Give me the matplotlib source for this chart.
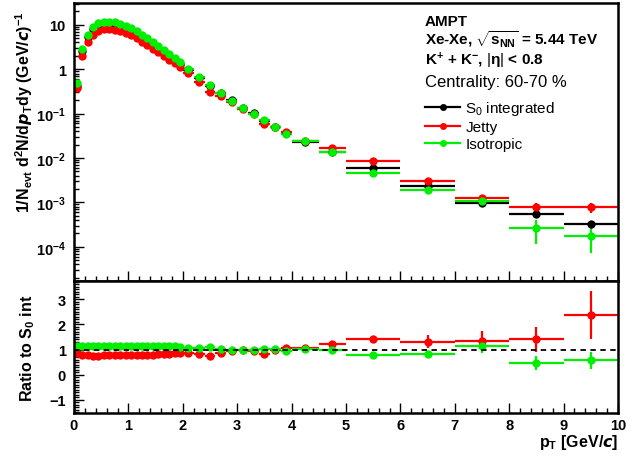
import numpy as np
import matplotlib
matplotlib.use("Agg")
import matplotlib.pyplot as plt
from matplotlib.ticker import MultipleLocator, FixedLocator, NullFormatter, FuncFormatter
from matplotlib.lines import Line2D

plt.rcParams['font.family'] = ['Liberation Sans', 'DejaVu Sans']
plt.rcParams['mathtext.fontset'] = 'custom'
plt.rcParams['mathtext.rm'] = 'Liberation Sans'
plt.rcParams['mathtext.it'] = 'Liberation Sans:italic'
plt.rcParams['mathtext.bf'] = 'Liberation Sans:bold'

# ---- data ----
pt = [0.05, 0.15, 0.25, 0.35, 0.45, 0.55, 0.65, 0.75, 0.85, 0.95,
      1.05, 1.15, 1.25, 1.35, 1.45, 1.55, 1.65, 1.75, 1.85, 1.95,
      2.1, 2.3, 2.5, 2.7, 2.9, 3.1, 3.3, 3.5, 3.7, 3.9,
      4.25, 4.75, 5.5, 6.5, 7.5, 8.5, 9.5]
pt_halfwidth = [0.05] * 20 + [0.1] * 10 + [0.25] * 2 + [0.5] * 5

spec_int = [0.42, 2.55, 5.2, 7.9, 9.5, 10.2, 10.4, 10.0, 9.3, 8.4,
            7.4, 6.3, 5.3, 4.4, 3.6, 3.0, 2.42, 1.98, 1.6, 1.28,
            0.94, 0.62, 0.41, 0.285, 0.20, 0.133, 0.101, 0.070, 0.050, 0.036,
            0.0235, 0.0137, 0.0060, 0.0023, 0.00097, 0.00055, 0.00032]
spec_jetty = [0.37, 2.0, 4.0, 6.0, 7.3, 7.9, 8.0, 7.7, 7.2, 6.5,
              5.8, 4.95, 4.2, 3.5, 2.9, 2.42, 1.98, 1.65, 1.36, 1.11,
              0.83, 0.51, 0.31, 0.25, 0.186, 0.129, 0.096, 0.058, 0.050, 0.039,
              0.0247, 0.0165, 0.0085, 0.0030, 0.00128, 0.00077, 0.00077]
spec_iso = [0.48, 2.9, 6.0, 9.0, 10.8, 11.6, 11.8, 11.4, 10.6, 9.6,
            8.4, 7.2, 6.0, 5.0, 4.1, 3.4, 2.75, 2.25, 1.82, 1.46,
            1.02, 0.66, 0.45, 0.29, 0.195, 0.133, 0.098, 0.072, 0.051, 0.034,
            0.0243, 0.0134, 0.0047, 0.0019, 0.00105, 0.00026, 0.000177]
err_int = [0.0] * 32 + [0.0002, 0.0001, 0.00006, 0.00008, 0.00006]
err_jetty = [0.0] * 32 + [0.0004, 0.00022, 0.0002, 0.0002, 0.00018]
err_iso = [0.0] * 32 + [0.0002, 0.00012, 0.00015, 0.000145, 0.000105]

ratio_jetty = [0.88, 0.78, 0.77, 0.76, 0.76, 0.77, 0.77, 0.77, 0.77, 0.77,
               0.78, 0.78, 0.79, 0.80, 0.80, 0.81, 0.82, 0.83, 0.85, 0.86,
               0.88, 0.83, 0.76, 0.88, 0.93, 0.97, 0.95, 0.83, 1.00, 1.08,
               1.05, 1.20, 1.41, 1.31, 1.35, 1.40, 2.37]
ratio_iso = [1.15, 1.14, 1.13, 1.14, 1.14, 1.15, 1.14, 1.14, 1.13, 1.14,
             1.15, 1.14, 1.13, 1.14, 1.15, 1.13, 1.13, 1.12, 1.13, 1.10,
             1.08, 1.07, 1.10, 1.02, 0.97, 1.00, 0.97, 1.03, 1.02, 0.95,
             1.03, 0.99, 0.80, 0.81, 1.15, 0.47, 0.57]
rerr_jetty = [0.0] * 30 + [0.04, 0.05, 0.08, 0.25, 0.38, 0.5, 0.96]
rerr_iso = [0.0] * 30 + [0.04, 0.05, 0.06, 0.12, 0.3, 0.28, 0.35]

labels = ["S$_0$ integrated", "Jetty", "Isotropic"]
colors = ["black", "#ff0000", "#00ee00"]
log_decades = [1e-4, 1e-3, 1e-2, 1e-1, 1, 10]

# ---- figure ----
fig = plt.figure(figsize=(6.33, 4.60), dpi=100)
W, H = 633.0, 460.0
x0, x1 = 74 / W, 618 / W
ax1 = fig.add_axes([x0, 1 - 282 / H, x1 - x0, (282 - 4) / H])
ax2 = fig.add_axes([x0, 1 - 414 / H, x1 - x0, (414 - 282) / H])

ekw = dict(fmt='o', ms=6, capsize=0, elinewidth=1.6, markeredgewidth=0)
for y, e, c in zip([spec_int, spec_jetty, spec_iso], [err_int, err_jetty, err_iso], colors):
    ax1.errorbar(pt, y, xerr=pt_halfwidth, yerr=e, color=c, **ekw)

ax2.errorbar(pt, ratio_jetty, xerr=pt_halfwidth, yerr=rerr_jetty, color=colors[1], **ekw)
ax2.errorbar(pt, ratio_iso, xerr=pt_halfwidth, yerr=rerr_iso, color=colors[2], **ekw)
ax2.axhline(1.0, color='black', ls=(0, (3, 2.5)), lw=1.3, zorder=5)

ax1.set_yscale('log')
ax1.set_ylim(1.7e-5, 31)
ax1.set_xlim(0, 10)
ax2.set_xlim(0, 10)
ax2.set_ylim(-1.52, 3.72)

for ax in (ax1, ax2):
    for s in ax.spines.values():
        s.set_linewidth(1.8)
    ax.tick_params(which='both', direction='in', top=False, right=False, width=1.0)
    ax.tick_params(which='major', length=7)
    ax.tick_params(which='minor', length=3.5)
    ax.xaxis.set_major_locator(MultipleLocator(1))
    ax.xaxis.set_minor_locator(MultipleLocator(0.2))

ax1.tick_params(axis='x', labelbottom=False)
ax1.yaxis.set_major_locator(FixedLocator(log_decades))
minor = [m * d for d in [1e-5] + log_decades for m in range(2, 10)]
ax1.yaxis.set_minor_locator(FixedLocator([v for v in minor if 1.7e-5 <= v <= 31]))
ax1.yaxis.set_minor_formatter(NullFormatter())

def logfmt(v, pos):
    e = int(round(np.log10(v)))
    if e == 0:
        return "1"
    if e == 1:
        return "10"
    return r"$\mathbf{10^{%d}}$" % e

ax1.yaxis.set_major_formatter(FuncFormatter(logfmt))
ax2.yaxis.set_major_locator(FixedLocator([-1, 0, 1, 2, 3]))
ax2.yaxis.set_minor_locator(MultipleLocator(0.1))
ax2.yaxis.set_minor_formatter(NullFormatter())

for ax in (ax1, ax2):
    ax.tick_params(axis='y', pad=6)
    for lab in ax.get_xticklabels() + ax.get_yticklabels():
        lab.set_fontweight('bold')
        lab.set_fontsize(10.5)

ax1.set_ylabel(r"1/N$_{\mathbf{evt}}$ d$^{\mathbf{2}}$N/d$\boldsymbol{p}_{\mathbf{T}}$dy (GeV/$\boldsymbol{c}$)$^{\mathbf{-1}}$",
               fontsize=11.5, fontweight='bold', loc='top')
ax1.yaxis.set_label_coords(-0.072, 0.975)
ax2.set_ylabel(r"Ratio to S$_{\mathbf{0}}$ int", fontsize=11.5, fontweight='bold')
ax2.yaxis.set_label_coords(-0.068, 0.5)
ax2.set_xlabel(r"p$_{\mathbf{T}}$ [GeV/$\boldsymbol{c}$]", fontsize=11.5, fontweight='bold', loc='right', labelpad=0)

# text block
tx = (425 - 74) / 544
ax1.text(tx, 0.934, "AMPT", transform=ax1.transAxes, fontsize=11, fontweight='bold', va='center')
ax1.text(tx, 0.872, r"Xe-Xe, $\sqrt{\mathbf{s}_{\mathbf{NN}}}$ = 5.44 TeV", transform=ax1.transAxes,
         fontsize=11, fontweight='bold', va='center')
ax1.text(tx, 0.797, r"K$^{\mathbf{+}}$ + K$^{\mathbf{-}}$, $|\mathbf{\eta}|$ < 0.8", transform=ax1.transAxes,
         fontsize=11, fontweight='bold', va='center')
ax1.text(tx, 0.716, "Centrality: 60-70 %", transform=ax1.transAxes, fontsize=12, va='center')

handles = [Line2D([], [], color=c, marker='o', ms=5, lw=1.6, markeredgewidth=0) for c in colors]
leg = ax1.legend(handles, labels, loc='upper left', bbox_to_anchor=(tx, 0.655), frameon=False,
                 fontsize=11, handlelength=2.3, handletextpad=0.35, labelspacing=0.2,
                 borderaxespad=0, borderpad=0)

fig.savefig("out.png", dpi=100)
